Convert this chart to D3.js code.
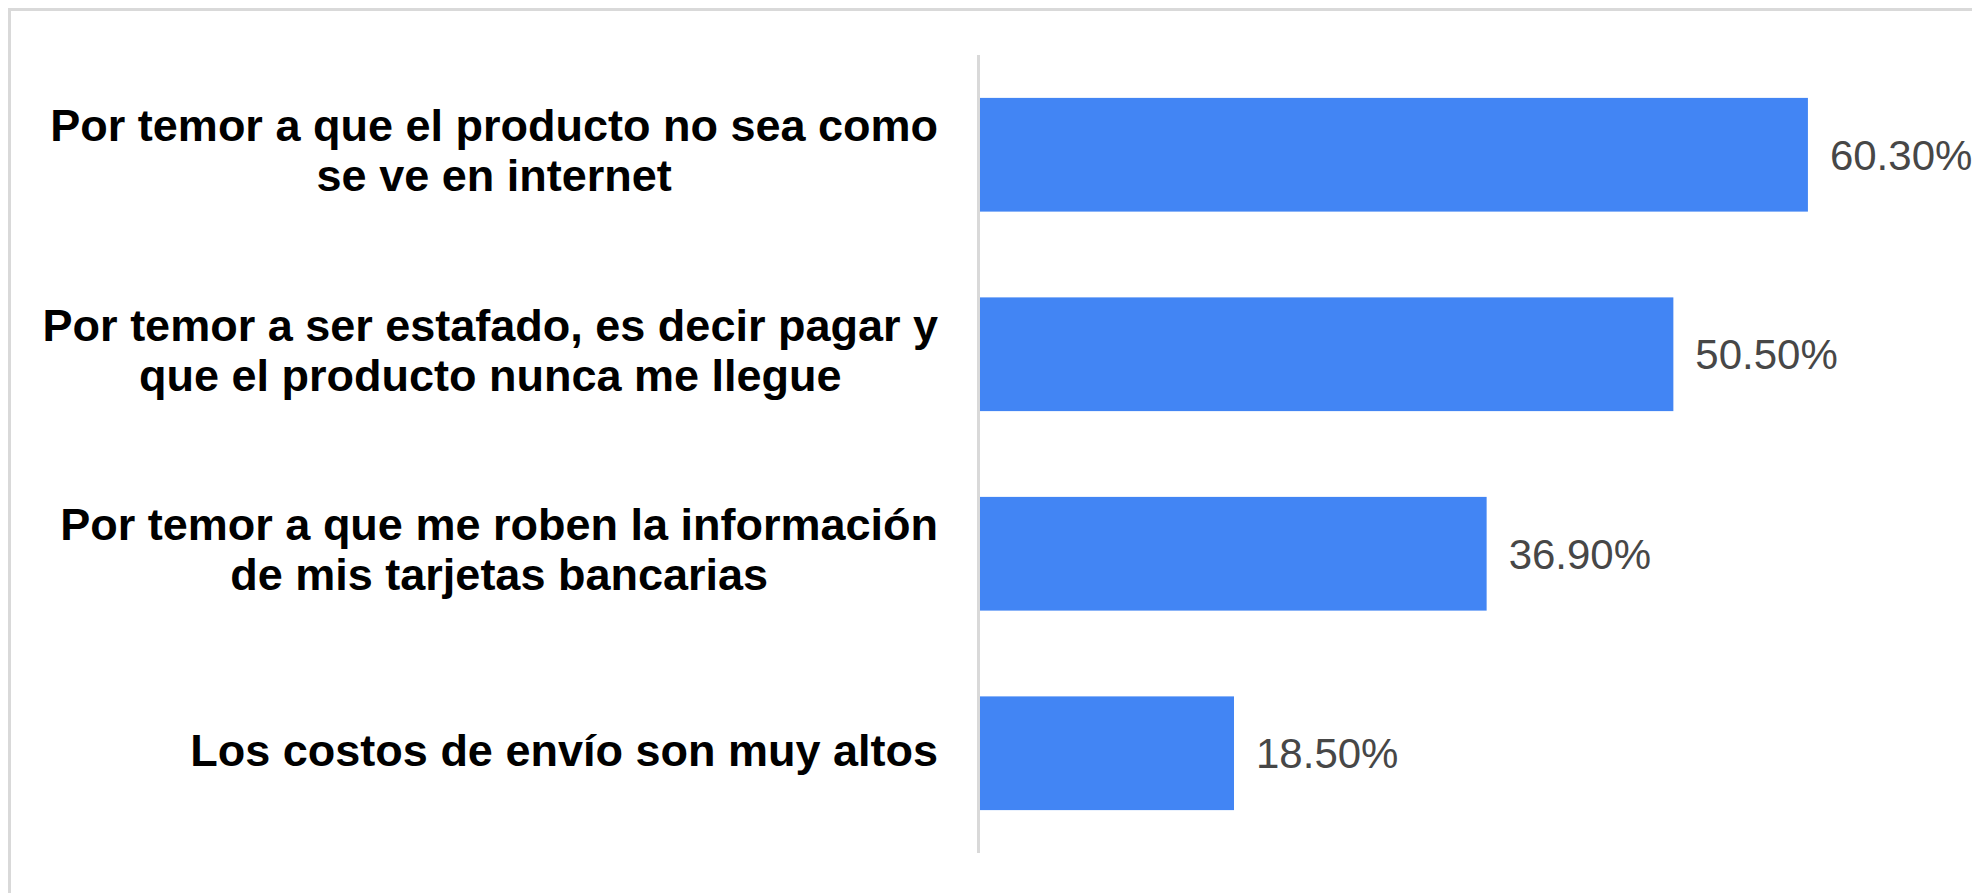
<!DOCTYPE html>
<html>
<head>
<meta charset="utf-8">
<script src="https://cdn.jsdelivr.net/npm/d3@7"></script>
<style>
  html, body { margin: 0; padding: 0; background: #ffffff; }
  svg { display: block; }
</style>
</head>
<body>
<svg id="chart" width="1972" height="893"></svg>
<script>
// ---- data ----
const categories = [
  "Por temor a que el producto no sea como\nse ve en internet",
  "Por temor a ser estafado, es decir pagar y\nque el producto nunca me llegue",
  "Por temor a que me roben la información\nde mis tarjetas bancarias",
  "Los costos de envío son muy altos"
];
const values = [60.3, 50.5, 36.9, 18.5];
const valueLabels = values.map(v => d3.format(".2f")(v) + "%");

// ---- layout ----
const W = 1972, H = 893;
const svg = d3.select("#chart");
svg.append("rect").attr("width", W).attr("height", H).attr("fill", "#ffffff");

// outer frame (top and left edges visible)
svg.append("rect").attr("x", 8).attr("y", 8).attr("width", W - 8).attr("height", 3).attr("fill", "#d9d9d9");
svg.append("rect").attr("x", 8).attr("y", 8).attr("width", 3).attr("height", H - 8).attr("fill", "#d9d9d9");

const x = d3.scaleLinear().domain([0, 70]).range([980, 980 + 70 * 13.73]);
const y = d3.scaleBand().domain(categories).range([55, 853]).paddingInner(0.43).paddingOuter(0.215);

// bars
svg.append("g").selectAll("rect").data(categories).join("rect")
  .attr("x", x(0))
  .attr("y", d => y(d))
  .attr("width", (d, i) => x(values[i]) - x(0))
  .attr("height", y.bandwidth())
  .attr("fill", "#4285f4");

// baseline axis
svg.append("rect")
  .attr("x", x(0) - 3).attr("y", y.range()[0])
  .attr("width", 3).attr("height", y.range()[1] - y.range()[0])
  .attr("fill", "#d9d9d9");

// value labels
svg.append("g").selectAll("text").data(categories).join("text")
  .attr("x", (d, i) => x(values[i]) + 22)
  .attr("y", d => y(d) + y.bandwidth() / 2 + 15)
  .attr("font-family", "'Liberation Sans', Arial, sans-serif")
  .attr("font-size", 42)
  .attr("fill", "#474747")
  .text((d, i) => valueLabels[i]);

// category labels: block right-aligned, lines centered within block
const labelRight = 938;
const lineH = 50;
const gLab = svg.append("g")
  .attr("font-family", "'Liberation Sans', Arial, sans-serif")
  .attr("font-weight", "bold")
  .attr("font-size", 45)
  .attr("fill", "#000000");

categories.forEach(cat => {
  const lines = cat.split("\n");
  const n = lines.length;
  const cy = y(cat) + y.bandwidth() / 2;
  const off = 13 - (n - 1) * 1.5;
  const texts = lines.map((ln, i) => gLab.append("text")
    .attr("text-anchor", "middle")
    .attr("y", cy + off + (i - (n - 1) / 2) * lineH)
    .text(ln));
  const maxW = d3.max(texts, t => t.node().getComputedTextLength());
  texts.forEach(t => t.attr("x", labelRight - maxW / 2));
});
</script>
</body>
</html>
